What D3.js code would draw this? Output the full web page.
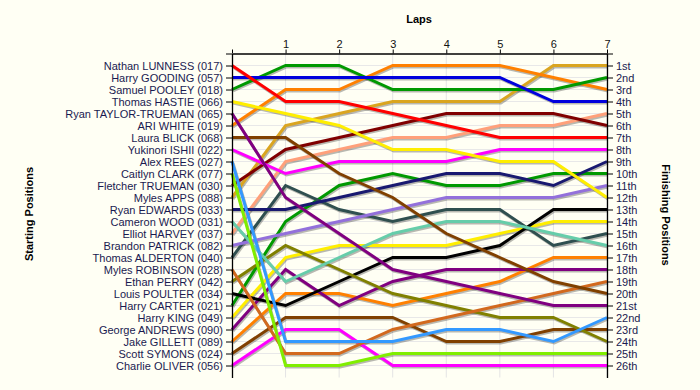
<!DOCTYPE html>
<html><head><meta charset="utf-8">
<script src="https://cdn.jsdelivr.net/npm/d3@7"></script>
<style>
html,body{margin:0;padding:0;background:#fffff4;}
svg{display:block;font-family:"Liberation Sans",Arial,sans-serif;}
</style></head>
<body><svg id="c" width="700" height="390"></svg>
<script>
const drivers = ["Nathan LUNNESS (017)","Harry GOODING (057)","Samuel POOLEY (018)","Thomas HASTIE (066)","Ryan TAYLOR-TRUEMAN (065)","ARI WHITE (019)","Laura BLICK (068)","Yukinori ISHII (022)","Alex REES (027)","Caitlyn CLARK (077)","Fletcher TRUEMAN (030)","Myles APPS (088)","Ryan EDWARDS (033)","Cameron WOOD (031)","Elliot HARVEY (037)","Brandon PATRICK (082)","Thomas ALDERTON (040)","Myles ROBINSON (028)","Ethan PERRY (042)","Louis POULTER (034)","Harry CARTER (021)","Harry KING (049)","George ANDREWS (090)","Jake GILLETT (089)","Scott SYMONS (024)","Charlie OLIVER (056)"];
const colors = ["#ff0000","#0000dd","#009900","#ffee00","#800080","#ff8000","#804000","#ff00ff","#3399ff","#80ee00","#800000","#daa520","#191970","#66cdaa","#ffa07a","#9370db","#2f4f4f","#d2691e","#808000","#000000","#009900","#ffee00","#800080","#ff8000","#804000","#ff00ff"];
const laps = [0,1,2,3,4,5,6,7];
const lapLabels = ["","1","2","3","4","5","6","7"];
const finishLabels = ["1st","2nd","3rd","4th","5th","6th","7th","8th","9th","10th","11th","12th","13th","14th","15th","16th","17th","18th","19th","20th","21st","22nd","23rd","24th","25th","26th"];
// positions at laps 0..7
const p01 = [1,4,4,5,6,7,7,7];
const p02 = [2,2,2,2,2,2,4,4];
const p03 = [3,1,1,3,3,3,3,2];
const p04 = [4,5,6,8,8,9,9,12];
const p05 = [5,12,15,18,19,20,21,21];
const p06 = [6,3,3,1,1,1,2,3];
const p07 = [7,7,10,12,15,17,19,20];
const p08 = [8,10,9,9,9,8,8,8];
const p09 = [9,24,24,24,23,23,24,22];
const p10 = [10,26,26,25,25,25,25,25];
const p11 = [11,8,7,6,5,5,5,6];
const p12 = [12,6,5,4,4,4,1,1];
const p13 = [13,13,12,11,10,10,11,9];
const p14 = [14,19,17,15,14,14,15,16];
const p15 = [15,9,8,7,7,6,6,5];
const p16 = [16,15,14,13,12,12,12,11];
const p17 = [17,11,13,14,13,13,16,15];
const p18 = [18,25,25,23,22,21,20,19];
const p19 = [19,16,18,20,21,22,22,24];
const p20 = [20,21,19,17,17,16,13,13];
const p21 = [21,14,11,10,11,11,10,10];
const p22 = [22,17,16,16,16,15,14,14];
const p23 = [23,18,21,19,18,18,18,18];
const p24 = [24,20,20,21,20,19,17,17];
const p25 = [25,22,22,22,24,24,23,23];
const p26 = [26,23,23,26,26,26,26,26];
const positions = [p01,p02,p03,p04,p05,p06,p07,p08,p09,p10,p11,p12,p13,p14,p15,p16,p17,p18,p19,p20,p21,p22,p23,p24,p25,p26];

const svg = d3.select("#c");
const x = d3.scaleLinear().domain([0,7]).range([232,607]);
const y = d3.scaleLinear().domain([0,27]).range([53.5,377.5]);
const posTicks = d3.range(0,27);

// gridlines
const grid = svg.append("g");
grid.selectAll("line.v").data(laps.slice(1)).join("line")
  .attr("x1",d=>x(d)).attr("x2",d=>x(d)).attr("y1",y(0)).attr("y2",y(27))
  .attr("stroke","#e4e4e4").attr("stroke-width",1);
grid.selectAll("line.h").data(d3.range(1,27)).join("line")
  .attr("x1",x(0)).attr("x2",x(7)).attr("y1",d=>y(d)).attr("y2",d=>y(d))
  .attr("stroke","#e8e8e8").attr("stroke-width",1);

const line = d3.line().x((d,i)=>x(laps[i])).y(d=>y(d));
const order = d3.range(positions.length).reverse();
const shadows = svg.append("g").attr("transform","translate(1,1.5)");
shadows.selectAll("path").data(order).join("path")
  .attr("d",i=>line(positions[i])).attr("fill","none")
  .attr("stroke","#000").attr("stroke-opacity",0.28).attr("stroke-width",3);
svg.append("g").selectAll("path").data(order).join("path")
  .attr("d",i=>line(positions[i])).attr("fill","none")
  .attr("stroke",i=>colors[i]).attr("stroke-width",3)
  .attr("stroke-linejoin","miter");

// axes
const leftAx = svg.append("g").attr("transform",`translate(${x(0)},0)`)
  .call(d3.axisLeft(y).tickValues(posTicks).tickSizeInner(6).tickSizeOuter(0)
    .tickFormat(d=>d===0?"":drivers[d-1]));
const rightAx = svg.append("g").attr("transform",`translate(${x(7)},0)`)
  .call(d3.axisRight(y).tickValues(posTicks).tickSizeInner(6).tickSizeOuter(0)
    .tickFormat(d=>d===0?"":finishLabels[d-1]));
const topAx = svg.append("g").attr("transform",`translate(0,${y(0)})`)
  .call(d3.axisTop(x).tickValues(laps).tickSizeInner(4).tickSizeOuter(0)
    .tickFormat((d,i)=>lapLabels[i]));
[leftAx,rightAx,topAx].forEach(g=>{
  g.selectAll("path.domain").attr("stroke","#000").attr("stroke-width",1.3);
  g.selectAll(".tick line").attr("stroke","#000");
  g.selectAll(".tick text").attr("font-size","11px").attr("font-family","'Liberation Sans',Arial,sans-serif");
});
leftAx.selectAll(".tick text").attr("fill","#1a1a50").attr("x",-9);
rightAx.selectAll(".tick text").attr("fill","#1a1a50").attr("x",9);
topAx.selectAll(".tick text").attr("fill","#111").attr("y",-6);

// titles
svg.append("text").attr("x",419).attr("y",23).attr("text-anchor","middle")
  .attr("font-size","11px").attr("font-weight","bold").attr("fill","#000").text("Laps");
svg.append("text").attr("transform","translate(33,214) rotate(-90)").attr("text-anchor","middle")
  .attr("font-size","11px").attr("font-weight","bold").attr("fill","#000").text("Starting Positions");
svg.append("text").attr("transform","translate(662,215) rotate(90)").attr("text-anchor","middle")
  .attr("font-size","11px").attr("font-weight","bold").attr("fill","#000").text("Finishing Positions");
</script></body></html>
